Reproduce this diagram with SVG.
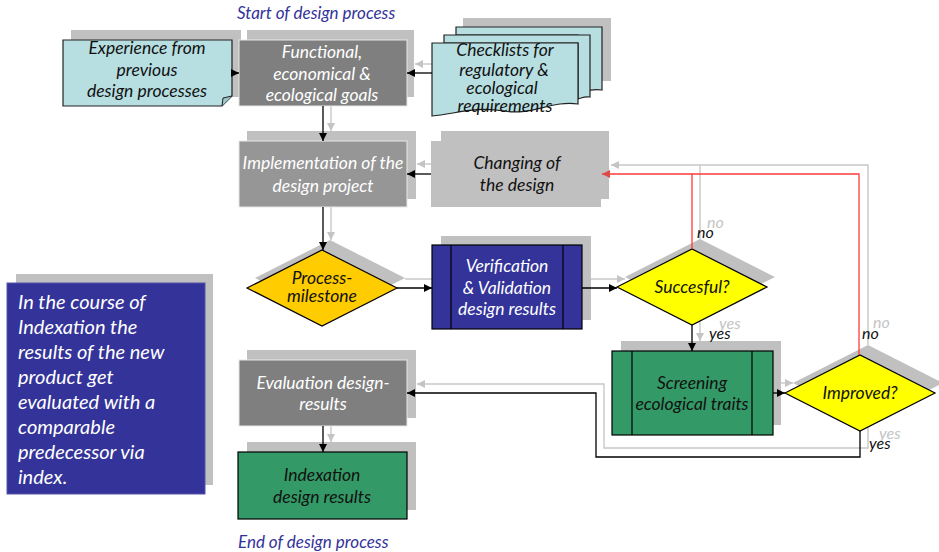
<svg xmlns="http://www.w3.org/2000/svg" width="939" height="552" viewBox="0 0 939 552">
<defs>
<marker id="ah" markerUnits="userSpaceOnUse" markerWidth="9" markerHeight="9" refX="8" refY="4" orient="auto"><path d="M0,0 L8,4 L0,8 z" fill="#000"/></marker>
<marker id="ahg" markerUnits="userSpaceOnUse" markerWidth="9" markerHeight="9" refX="8" refY="4" orient="auto"><path d="M0,0 L8,4 L0,8 z" fill="#c4c4c4"/></marker>
<marker id="ahr" markerUnits="userSpaceOnUse" markerWidth="9" markerHeight="9" refX="8" refY="4" orient="auto"><path d="M0,0 L8,4 L0,8 z" fill="#e04848"/></marker>
<style>
text{font-family:Lato,"Open Sans","Liberation Sans",sans-serif;font-style:italic;font-size:17.5px;}
.c{text-anchor:middle;}
.w{fill:#fff;}
.k{fill:#111;}
.lbl{font-size:16px;}
.gl{fill:#c4c4c4;font-size:16px;}
.ttl{fill:#33339a;font-size:17px;}
.nt{fill:#fff;font-size:20px;}
.ghost{fill:#c0c0c0;}
.cy{fill:#b7dee1;stroke:#222;stroke-width:1.2;}
.gc{fill:none;stroke:#c8c8c8;stroke-width:1.4;}
.bc{fill:none;stroke:#000;stroke-width:1.3;}
.rc{fill:none;stroke:#ff3b3b;stroke-width:1.3;}
</style>
</defs>
<rect width="939" height="552" fill="#fff"/>

<text class="ttl" x="237" y="19">Start of design process</text>
<text class="ttl" x="238" y="548">End of design process</text>

<!-- ghost shadows -->
<g id="ghosts">
<rect class="ghost" x="71" y="30" width="170" height="67"/>
<rect class="ghost" x="247" y="30" width="167" height="67"/>
<rect class="ghost" x="463" y="18" width="148" height="63"/>
<rect class="ghost" x="247" y="131" width="169" height="68"/>
<rect class="ghost" x="441" y="131" width="168" height="68"/>
<polygon class="ghost" points="255,278 330,240 405,278 330,316"/>
<rect class="ghost" x="441" y="236" width="150" height="84"/>
<polygon class="ghost" points="625,277 700,239 775,277 700,315"/>
<rect class="ghost" x="621" y="341" width="160" height="84"/>
<polygon class="ghost" points="793,383 868,345 943,383 868,421"/>
<rect class="ghost" x="247" y="350" width="169" height="68"/>
<rect class="ghost" x="247" y="442" width="169" height="68"/>
<rect class="ghost" x="16" y="274" width="197" height="211"/>
</g>

<!-- ghost connectors -->
<g id="ghost-connectors">
<line class="gc" x1="331" y1="97" x2="331" y2="131" marker-end="url(#ahg)"/>
<line class="gc" x1="441" y1="64" x2="415" y2="64" marker-end="url(#ahg)"/>
<line class="gc" x1="441" y1="164" x2="417" y2="164" marker-end="url(#ahg)"/>
<line class="gc" x1="331" y1="199" x2="331" y2="240" marker-end="url(#ahg)"/>
<line class="gc" x1="405" y1="279" x2="440" y2="279" marker-end="url(#ahg)"/>
<line class="gc" x1="591" y1="279" x2="625" y2="279" marker-end="url(#ahg)"/>
<polyline class="gc" points="700,239 700,165 611,165" marker-end="url(#ahg)"/>
<polyline class="gc" points="868,345 868,165 700,165"/>
<line class="gc" x1="700" y1="315" x2="700" y2="341" marker-end="url(#ahg)"/>
<line class="gc" x1="781" y1="383" x2="793" y2="383" marker-end="url(#ahg)"/>
<polyline class="gc" points="868,421 868,448 604,448 604,384 417,384" marker-end="url(#ahg)"/>
<line class="gc" x1="331" y1="418" x2="331" y2="442" marker-end="url(#ahg)"/>
<text class="gl" x="707" y="228">no</text>
<text class="gl" x="719" y="329">yes</text>
<text class="gl" x="873" y="328">no</text>
<text class="gl" x="879" y="439">yes</text>
</g>

<!-- nodes -->
<g id="experience">
<path class="cy" d="M63,40 H232 V96 L222,106 H63 Z"/>
<path d="M232,96 L223,98 L222,106" fill="#9cc6c9" stroke="#222" stroke-width="1"/>
<text class="c k" x="147" y="54">Experience from</text>
<text class="c k" x="147" y="76">previous</text>
<text class="c k" x="147" y="97">design processes</text>
</g>

<g id="functional-goals">
<rect x="239" y="40" width="168" height="66" fill="#7f7f7f" stroke="#e8e8e8" stroke-width="1"/>
<text class="c w" x="322" y="58">Functional,</text>
<text class="c w" x="322" y="80">economical &amp;</text>
<text class="c w" x="322" y="101">ecological goals</text>
</g>

<g id="checklists">
<path class="cy" d="M456,27 H602 V90 C590,88 585,92 578,93 V35 H456 Z"/>
<path class="cy" d="M444,35 H590 V97 C584,96 582,98 578,99 V43 H444 Z"/>
<path class="cy" d="M432,43 H578 V104 C552,100 532,116 504,111 C476,106 455,114 432,116 Z"/>
<text class="c k" x="505" y="56">Checklists for</text>
<text class="c k" x="504" y="76">regulatory &amp;</text>
<text class="c k" x="502" y="94">ecological</text>
<text class="c k" x="505" y="112">requirements</text>
</g>

<g id="implementation">
<rect x="239" y="141" width="168" height="66" fill="#969696" stroke="#e8e8e8" stroke-width="1"/>
<text class="c w" x="323" y="169">Implementation of the</text>
<text class="c w" x="323" y="192">design project</text>
</g>

<g id="changing">
<rect x="431" y="141" width="170" height="66" fill="#c0c0c0"/>
<text class="c k" x="517" y="169">Changing of</text>
<text class="c k" x="517" y="191">the design</text>
</g>

<g id="milestone">
<polygon points="247,288 322,250 397,288 322,326" fill="#ffcc00" stroke="#000" stroke-width="1.2"/>
<text class="c k" x="322" y="284">Process-</text>
<text class="c k" x="322" y="302">milestone</text>
</g>

<g id="verification">
<rect x="432" y="245" width="150" height="84" fill="#333399" stroke="#000" stroke-width="1.2"/>
<line x1="451" y1="245" x2="451" y2="329" stroke="#000" stroke-width="1.2"/>
<line x1="563" y1="245" x2="563" y2="329" stroke="#000" stroke-width="1.2"/>
<text class="c w" x="507" y="272">Verification</text>
<text class="c w" x="507" y="294">&amp; Validation</text>
<text class="c w" x="507" y="315">design results</text>
</g>

<g id="successful">
<polygon points="617,287 692,249 767,287 692,325" fill="#ffff00" stroke="#000" stroke-width="1.2"/>
<text class="c k" x="692" y="293">Succesful?</text>
</g>

<g id="screening">
<rect x="612" y="351" width="161" height="84" fill="#339966" stroke="#000" stroke-width="1.2"/>
<line x1="632" y1="351" x2="632" y2="435" stroke="#000" stroke-width="1.2"/>
<line x1="752" y1="351" x2="752" y2="435" stroke="#000" stroke-width="1.2"/>
<text class="c k" x="692" y="389">Screening</text>
<text class="c k" x="692" y="410">ecological traits</text>
</g>

<g id="improved">
<polygon points="785,393 860,355 935,393 860,431" fill="#ffff00" stroke="#000" stroke-width="1.2"/>
<text class="c k" x="860" y="399">Improved?</text>
</g>

<g id="evaluation">
<rect x="239" y="360" width="168" height="66" fill="#7f7f7f" stroke="#e8e8e8" stroke-width="1"/>
<text class="c w" x="323" y="389">Evaluation design-</text>
<text class="c w" x="323" y="410">results</text>
</g>

<g id="indexation">
<rect x="238" y="452" width="169" height="67" fill="#339966" stroke="#000" stroke-width="1.2"/>
<text class="c k" x="322" y="481">Indexation</text>
<text class="c k" x="322" y="503">design results</text>
</g>

<g id="note">
<rect x="7" y="283" width="198" height="211" fill="#333399" stroke="#5555aa" stroke-width="1"/>
<text class="nt" x="18" y="309">In the course of</text>
<text class="nt" x="18" y="334">Indexation the</text>
<text class="nt" x="18" y="359">results of the new</text>
<text class="nt" x="18" y="384">product get</text>
<text class="nt" x="18" y="409">evaluated with a</text>
<text class="nt" x="18" y="434">comparable</text>
<text class="nt" x="18" y="459">predecessor via</text>
<text class="nt" x="18" y="484">index.</text>
</g>

<!-- connectors -->
<g id="connectors">
<line class="bc" x1="232" y1="73" x2="239" y2="73" marker-end="url(#ah)"/>
<line class="bc" x1="432" y1="73" x2="407" y2="73" marker-end="url(#ah)"/>
<line class="bc" x1="323" y1="106" x2="323" y2="141" marker-end="url(#ah)"/>
<line class="bc" x1="431" y1="174" x2="407" y2="174" marker-end="url(#ah)"/>
<line class="bc" x1="323" y1="207" x2="323" y2="250" marker-end="url(#ah)"/>
<line class="bc" x1="397" y1="288" x2="432" y2="288" marker-end="url(#ah)"/>
<line class="bc" x1="582" y1="288" x2="617" y2="288" marker-end="url(#ah)"/>
<line class="bc" x1="692" y1="325" x2="692" y2="351" marker-end="url(#ah)"/>
<line class="bc" x1="773" y1="393" x2="785" y2="393" marker-end="url(#ah)"/>
<polyline class="bc" points="860,431 860,457 596,457 596,393 407,393" marker-end="url(#ah)"/>
<line class="bc" x1="323" y1="426" x2="323" y2="452" marker-end="url(#ah)"/>
<polyline class="rc" points="692,249 692,174 602,174" marker-end="url(#ahr)"/>
<polyline class="rc" points="859,355 859,174 692,174"/>
<text class="k lbl" x="697" y="238">no</text>
<text class="k lbl" x="709" y="339">yes</text>
<text class="k lbl" x="862" y="339">no</text>
<text class="k lbl" x="869" y="449">yes</text>
</g>
</svg>
